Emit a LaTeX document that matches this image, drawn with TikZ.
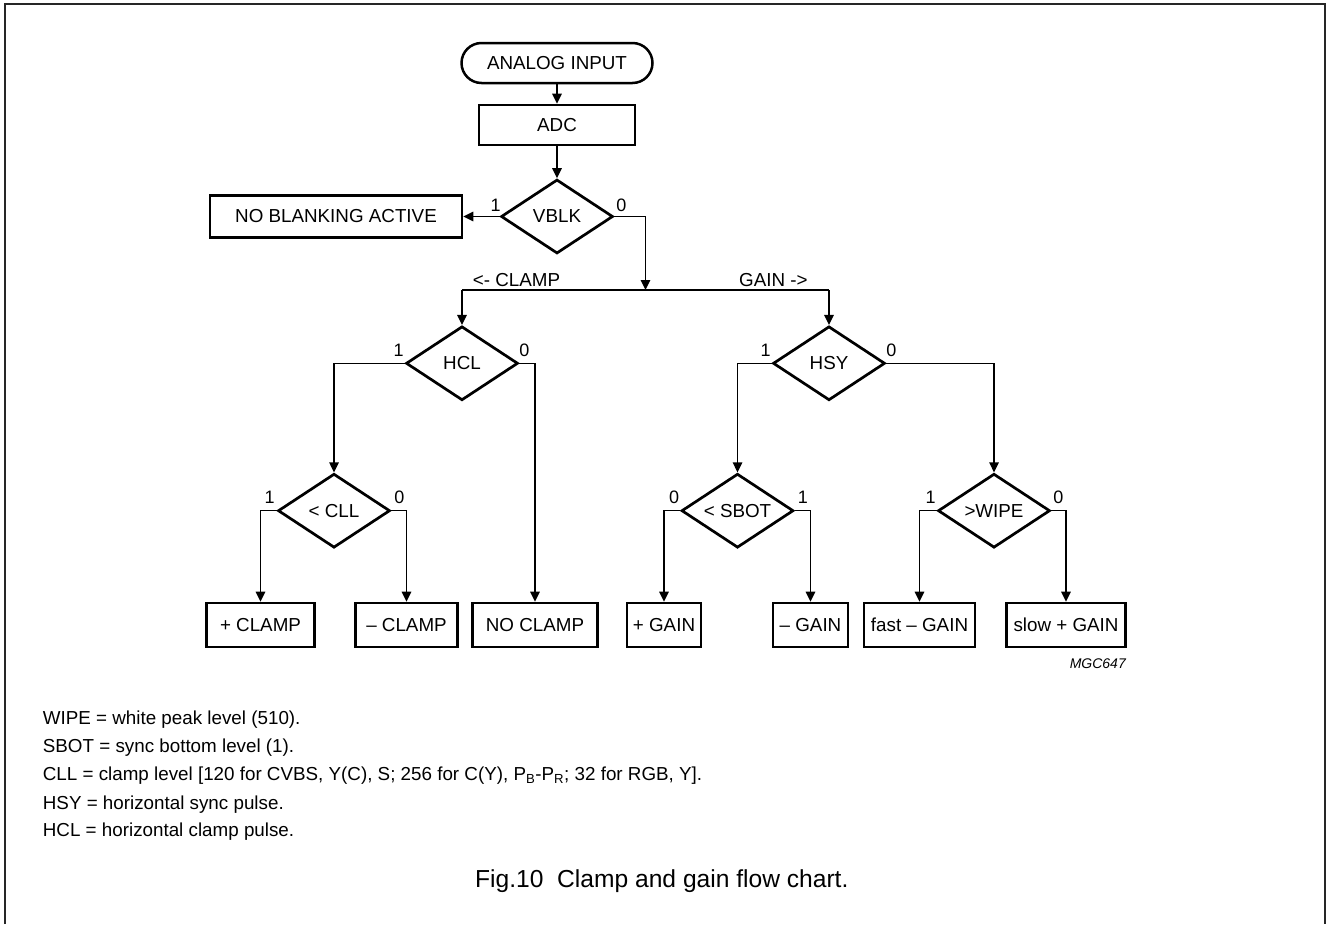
\documentclass[tikz,border=0pt]{standalone}
\usepackage{fontspec}
\setmainfont{Liberation Sans}
\usetikzlibrary{shapes.geometric,shapes.misc,arrows.meta,calc}
\begin{document}
\begin{tikzpicture}[x=1pt,y=-1pt,
  every node/.style={font=\fontsize{18.8}{22}\selectfont, inner sep=0pt},
  box/.style={draw, line width=2.7pt, minimum height=44pt},
  term/.style={draw, rounded rectangle, line width=2.5pt, minimum width=191pt, minimum height=40pt},
  dec/.style={draw, diamond, line width=2.7pt, minimum width=112pt, minimum height=74pt, aspect=1.5},
  conn/.style={line width=1.4pt, -{Triangle[length=10pt,width=9.5pt]}},
  plain/.style={line width=1.4pt},
  lbl/.style={font=\fontsize{18}{20}\selectfont},
  note/.style={anchor=base west},
]
\useasboundingbox (0,0) rectangle (1327,924);
\draw[line width=2pt, black!85] (4.5,924) -- (4.5,3.5) -- (1325,3.5) -- (1325,924);

% top column
\node[term] (in) at (557,63) {ANALOG INPUT};
\node[box, minimum width=156pt, minimum height=40pt] (adc) at (557,125) {ADC};
\node[dec] (vblk) at (557,216.5) {VBLK};
\node[box, minimum width=252pt, minimum height=42pt] (nba) at (336,216.5) {NO BLANKING ACTIVE};

% second level
\node[dec] (hcl) at (462,363.3) {HCL};
\node[dec] (hsy) at (829,363.3) {HSY};

% third level
\node[dec] (cll) at (334,510.7) {< CLL};
\node[dec] (sbot) at (737.5,510.7) {< SBOT};
\node[dec] (wipe) at (994,510.7) {>WIPE};

% bottom boxes
\node[box, minimum width=108pt] (pclamp) at (260.5,625) {+ CLAMP};
\node[box, minimum width=102pt] (mclamp) at (406.5,625) {– CLAMP};
\node[box, minimum width=125pt] (noclamp) at (535,625) {NO CLAMP};
\node[box, minimum width=74pt] (pgain) at (664,625) {+ GAIN};
\node[box, minimum width=75pt] (mgain) at (810.5,625) {– GAIN};
\node[box, minimum width=111pt] (fgain) at (919.5,625) {fast – GAIN};
\node[box, minimum width=119pt] (sgain) at (1066,625) {slow + GAIN};

% connectors
\draw[conn] (in.south) -- (adc.north);
\draw[conn] (adc.south) -- (vblk.north);
\draw[conn] (vblk.west) -- (nba.east);
\coordinate (split) at (645.5,290);
\draw[conn] (vblk.east) -| (split);
\draw[plain] (hcl.north |- split) -- (hsy.north |- split);
\draw[conn] (hcl.north |- split) -- (hcl.north);
\draw[conn] (hsy.north |- split) -- (hsy.north);
\draw[conn] (hcl.west) -| (cll.north);
\draw[conn] (hcl.east) -| (noclamp.north);
\draw[conn] (hsy.west) -| (sbot.north);
\draw[conn] (hsy.east) -| (wipe.north);
\draw[conn] (cll.west) -| (pclamp.north);
\draw[conn] (cll.east) -| (mclamp.north);
\draw[conn] (sbot.west) -| (pgain.north);
\draw[conn] (sbot.east) -| (mgain.north);
\draw[conn] (wipe.west) -| (fgain.north);
\draw[conn] (wipe.east) -| (sgain.north);

% branch labels
\node[lbl] (vblk1) at ($(vblk.west)+(-4,-11)$) {1};
\node[lbl] (vblk0) at ($(vblk.east)+(7,-11)$) {0};
\node[lbl] (hcl1) at ($(hcl.west)+(-6,-13)$) {1};
\node[lbl] (hcl0) at ($(hcl.east)+(5,-13)$) {0};
\node[lbl] (hsy1) at ($(hsy.west)+(-6,-13)$) {1};
\node[lbl] (hsy0) at ($(hsy.east)+(5,-13)$) {0};
\node[lbl] (cll1) at ($(cll.west)+(-7,-13)$) {1};
\node[lbl] (cll0) at ($(cll.east)+(8,-13)$) {0};
\node[lbl] (sbot0) at ($(sbot.west)+(-6,-13)$) {0};
\node[lbl] (sbot1) at ($(sbot.east)+(8,-13)$) {1};
\node[lbl] (wipe1) at ($(wipe.west)+(-6,-13)$) {1};
\node[lbl] (wipe0) at ($(wipe.east)+(7,-13)$) {0};

\node[anchor=base west] (lclamp) at (472.7,286) {<- CLAMP};
\node[anchor=base west] (rgain) at (739,286) {GAIN ->};

\node[anchor=base east, font=\fontsize{14}{16}\selectfont\itshape] (mgc) at (1126,668) {MGC647};

% notes
\node[note] (n1) at (42.7,724) {WIPE = white peak level (510).};
\node[note] (n2) at (42.7,752.3) {SBOT = sync bottom level (1).};
\node[note] (n3) at (42.7,780) {CLL = clamp level [120 for CVBS, Y(C), S; 256 for C(Y), P\textsubscript{B}-P\textsubscript{R}; 32 for RGB, Y].};
\node[note] (n4) at (42.7,809) {HSY = horizontal sync pulse.};
\node[note] (n5) at (42.7,836.7) {HCL = horizontal clamp pulse.};

\node[anchor=base west, font=\fontsize{24.6}{28}\selectfont] (cap) at (475,887.3) {Fig.10\ \ Clamp and gain flow chart.};
\end{tikzpicture}
\end{document}
